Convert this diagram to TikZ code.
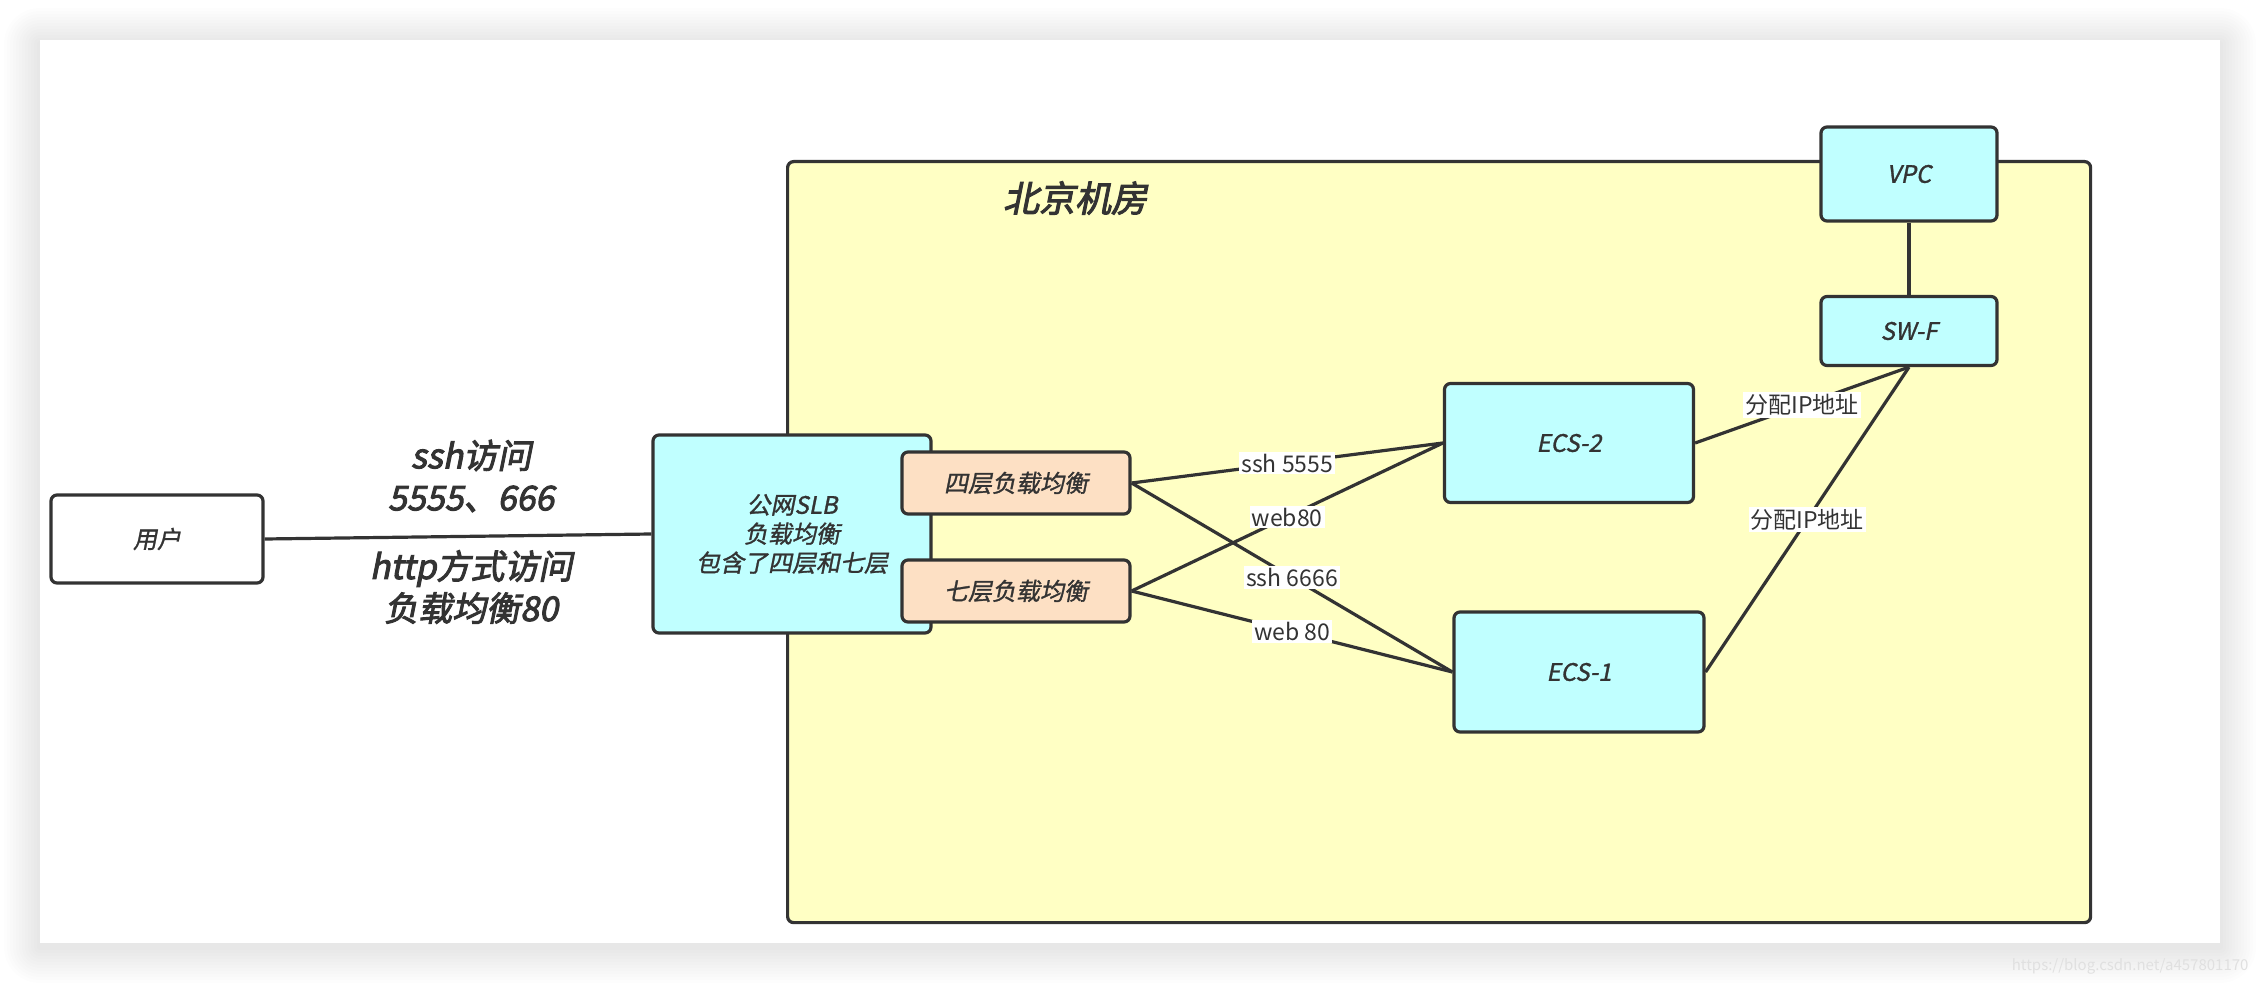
\documentclass[tikz,border=0pt]{standalone}
\usepackage{fontspec}
\usepackage{xcolor}
\usepackage{tikz}
\newfontfamily\cjkfont{Noto Sans CJK SC}
\newfontfamily\cjkslant[FakeSlant=0.2,FakeBold=1.2]{Noto Sans CJK SC}
\newfontfamily\cjkbold[FakeSlant=0.2,FakeBold=2.8]{Noto Sans CJK SC}
\newcommand\nodeit{\cjkslant\fontsize{24}{29}\selectfont}
\newcommand\lblfont{\cjkfont\fontsize{23}{28}\selectfont}
\newcommand\bigit{\cjkbold\fontsize{34}{42}\selectfont}
\newcommand\roomit{\cjkbold\fontsize{36}{42}\selectfont}
\definecolor{lineGray}{HTML}{333333}
\definecolor{boxCyan}{HTML}{C0FFFF}
\definecolor{boxPeach}{HTML}{FDE0C4}
\definecolor{roomYellow}{HTML}{FFFFC4}

\begin{document}
\begin{tikzpicture}[
  % one unit = one pixel of the original, y grows downwards
  x=1pt, y=-1pt,
  box/.style={
    rectangle, rounded corners=6pt,
    draw=lineGray, line width=3.2pt,
    inner sep=0pt, align=center,
    text=lineGray, font=\nodeit
  },
  cyanbox/.style={box, fill=boxCyan},
  peachbox/.style={box, fill=boxPeach},
  link/.style={draw=lineGray, line width=3.2pt},
  lbl/.style={fill=white, inner sep=2pt, text=lineGray, font=\lblfont},
  bigtext/.style={align=center, text=lineGray, font=\bigit},
]

% --- Page and canvas ---
\useasboundingbox (0,0) rectangle (2260,984);
\fill[white] (0,0) rectangle (2260,984);
\foreach \d in {3,6,...,36} {
  \fill[black, opacity=0.007, rounded corners=\d pt]
    ({40-\d},{44-\d}) rectangle ({2220+\d},{947+\d});
}
\fill[white] (40,40) rectangle (2220,943);

% --- Machine room ---
\node[box, fill=roomYellow, minimum width=1303, minimum height=761,
      anchor=north west] (room) at (786,160) {};
\node[bigtext, font=\roomit] (roomname) at (1075,198) {北京机房};

% --- Boxes ---
\node[box, fill=white, minimum width=212, minimum height=88]
  (user) at (157,539) {用户};
\node[cyanbox, minimum width=278, minimum height=198]
  (slb) at (792,534) {公网SLB\\负载均衡\\包含了四层和七层};
\node[peachbox, minimum width=228, minimum height=62]
  (l4) at (1016,483) {四层负载均衡};
\node[peachbox, minimum width=228, minimum height=62]
  (l7) at (1016,591) {七层负载均衡};
\node[cyanbox, minimum width=249, minimum height=119]
  (ecs2) at (1569,443) {ECS-2};
\node[cyanbox, minimum width=250, minimum height=120]
  (ecs1) at (1579,672) {ECS-1};
\node[cyanbox, minimum width=176, minimum height=94]
  (vpc) at (1909,174) {VPC};
\node[cyanbox, minimum width=176, minimum height=69]
  (swf) at (1909,331) {SW-F};

% --- User to SLB ---
\draw[link] (user.east) -- (slb.west);
\node[bigtext] (sshnote) at (471,476) {ssh访问\\5555、666};
\node[bigtext] (httpnote) at (471,587) {http方式访问\\负载均衡80};

% --- Load balancers to ECS ---
\draw[link] (l4.east) -- node[lbl] (ssh5555) {ssh 5555} (ecs2.west);
\draw[link] (l4.east) -- node[lbl] (ssh6666) {ssh 6666} (ecs1.west);
\draw[link] (l7.east) -- node[lbl] (web80a) {web80} (ecs2.west);
\draw[link] (l7.east) -- node[lbl] (web80b) {web 80} (ecs1.west);

% --- ECS to switch and VPC ---
\draw[link] (swf.south) -- node[lbl] (ipa) {分配IP地址} (ecs2.east);
\draw[link] (swf.south) -- node[lbl] (ipb) {分配IP地址} (ecs1.east);
\draw[link] (vpc.south) -- (swf.north);

% --- Watermark ---
\node[anchor=east, text=black!12, font=\cjkfont\fontsize{15}{18}\selectfont]
  (mark) at (2252,966) {https://blog.csdn.net/a457801170};

\end{tikzpicture}
\end{document}
